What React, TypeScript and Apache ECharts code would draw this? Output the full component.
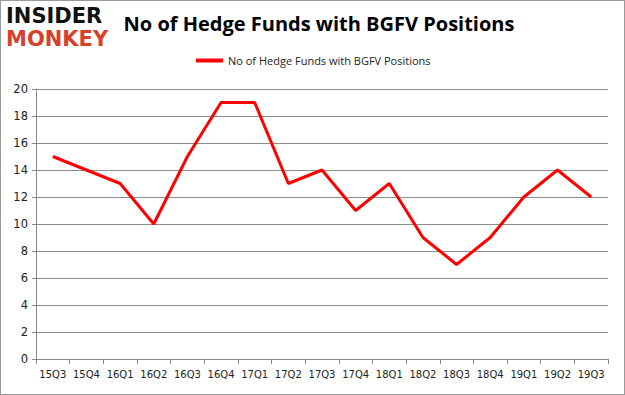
import React, { useEffect, useRef } from "react";
import * as echarts from "echarts";

const categories = ["15Q3","15Q4","16Q1","16Q2","16Q3","16Q4","17Q1","17Q2","17Q3","17Q4","18Q1","18Q2","18Q3","18Q4","19Q1","19Q2","19Q3"];
const values = [15,14,13,10,15,19,19,13,14,11,13,9,7,9,12,14,12];
const seriesName = "No of Hedge Funds with BGFV Positions";
const titleText = "No of Hedge Funds with BGFV Positions";

export default function App() {
  const ref = useRef<HTMLDivElement>(null);
  useEffect(() => {
    const chart = echarts.init(ref.current!, undefined, { renderer: "svg" });
    chart.setOption({
      animation: false,
      backgroundColor: "#ffffff",
      title: {
        text: titleText,
        left: 313,
        textAlign: "center",
        top: 7,
        textStyle: { fontFamily: "Open Sans", fontWeight: "bold", fontSize: 20, color: "#000" },
      },
      legend: {
        top: 49,
        left: 190,
        itemWidth: 27,
        itemHeight: 4,
        icon: "rect",
        itemGap: 4,
        textStyle: { fontFamily: "Open Sans", fontSize: 11, color: "#222" },
        data: [seriesName],
      },
      graphic: [
        { type: "text", left: 5, top: 4, style: { text: "INSIDER", fontFamily: "DejaVu Sans", fontWeight: "bold", fontSize: 21, fill: "#111" } },
        { type: "text", left: 5, top: 27, style: { text: "MONKEY", fontFamily: "DejaVu Sans", fontWeight: "bold", fontSize: 21, fill: "#d7412a" } },
      ],
      grid: { left: 35, right: 16, top: 88, bottom: 35, containLabel: false },
      xAxis: {
        type: "category",
        data: categories,
        boundaryGap: true,
        axisLine: { lineStyle: { color: "#888" } },
        axisTick: { show: true, alignWithLabel: false, lineStyle: { color: "#888" } },
        axisLabel: { fontFamily: "DejaVu Sans", fontSize: 10, color: "#222", margin: 10, interval: 0 },
      },
      yAxis: {
        type: "value",
        min: 0,
        max: 20,
        interval: 2,
        axisLine: { show: true, lineStyle: { color: "#888" } },
        axisTick: { show: true, length: 4, lineStyle: { color: "#888" } },
        axisLabel: { fontFamily: "DejaVu Sans", fontSize: 11.5, color: "#222", margin: 8 },
        splitLine: { lineStyle: { color: "#8c8c8c" } },
      },
      series: [
        {
          name: seriesName,
          type: "line",
          data: values,
          showSymbol: false,
          symbol: "none",
          lineStyle: { color: "#ff0000", width: 3 },
          itemStyle: { color: "#ff0000" },
        },
      ],
    });
    return () => chart.dispose();
  }, []);
  return (
    <div
      ref={ref}
      style={{ position: "fixed", left: 0, top: 0, width: 625, height: 395, border: "1px solid #999", boxSizing: "border-box" }}
    />
  );
}
